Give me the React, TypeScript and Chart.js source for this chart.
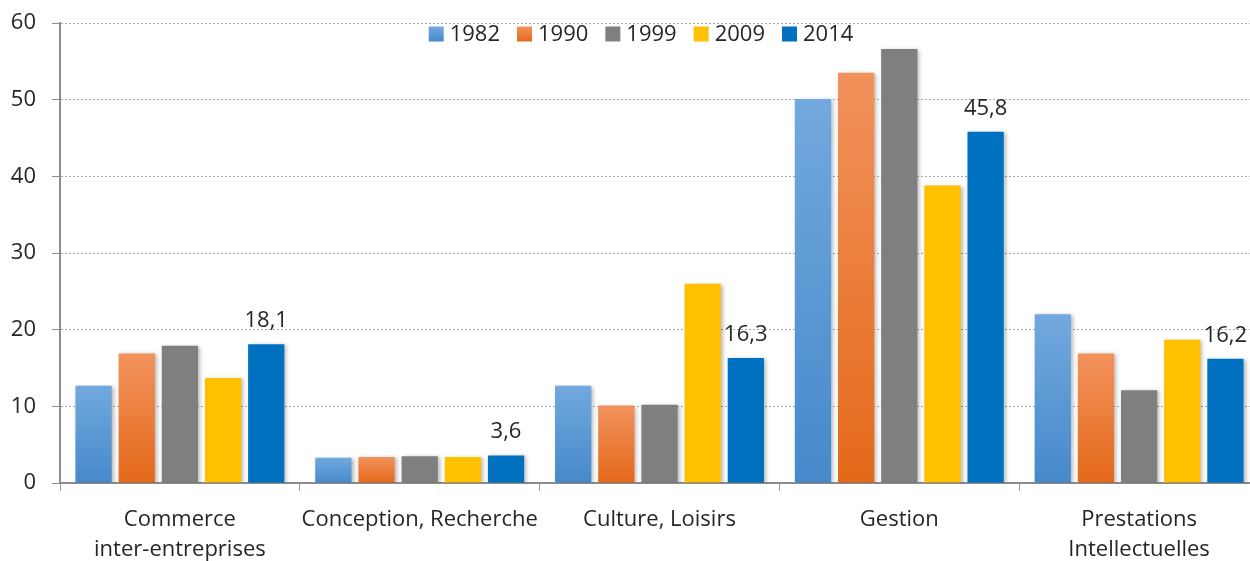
import React, { useEffect, useRef } from "react";
import { Chart, registerables } from "chart.js";

Chart.register(...registerables);

const categories: string[][] = [
  ["Commerce", "inter-entreprises"],
  ["Conception, Recherche"],
  ["Culture, Loisirs"],
  ["Gestion"],
  ["Prestations", "Intellectuelles"],
];
const seriesNames = ["1982", "1990", "1999", "2009", "2014"];
const values1982 = [12.7, 3.3, 12.7, 50.1, 22.0];
const values1990 = [16.9, 3.4, 10.1, 53.5, 16.9];
const values1999 = [17.9, 3.5, 10.2, 56.6, 12.1];
const values2009 = [13.7, 3.4, 26.0, 38.8, 18.7];
const values2014 = [18.1, 3.6, 16.3, 45.8, 16.2];
const yTicks = [0, 10, 20, 30, 40, 50, 60];

const FONT = "'Open Sans', 'Noto Sans', sans-serif";
const TEXT = "#262626";
const FS = 22;

type Grad = { top: string; bottom: string };
const palette: Grad[] = [
  { top: "#72a9de", bottom: "#4689ca" },
  { top: "#f2925c", bottom: "#e4691a" },
  { top: "#7f7f7f", bottom: "#7f7f7f" },
  { top: "#ffc000", bottom: "#ffc000" },
  { top: "#0070c0", bottom: "#0070c0" },
];

function barFill(g: Grad) {
  return (ctx: any) => {
    const chart = ctx.chart;
    const y = chart.scales?.y;
    if (!y || ctx.type !== "data" || g.top === g.bottom) return g.top;
    const v = ctx.parsed?.y ?? 0;
    const top = y.getPixelForValue(v);
    const bottom = y.getPixelForValue(0);
    if (!isFinite(top) || !isFinite(bottom) || top === bottom) return g.top;
    const gr = chart.ctx.createLinearGradient(0, top, 0, bottom);
    gr.addColorStop(0, g.top);
    gr.addColorStop(1, g.bottom);
    return gr;
  };
}

const shadowPlugin = {
  id: "barShadow",
  beforeDatasetsDraw(chart: any) {
    const c = chart.ctx;
    c.save();
    c.shadowColor = "rgba(0,0,0,0.28)";
    c.shadowBlur = 4;
    c.shadowOffsetX = 2;
    c.shadowOffsetY = 1;
  },
  afterDatasetsDraw(chart: any) {
    chart.ctx.restore();
  },
};

const labelPlugin = {
  id: "lastLabels",
  afterDatasetsDraw(chart: any) {
    const c = chart.ctx;
    const last = chart.data.datasets.length - 1;
    const meta = chart.getDatasetMeta(last);
    c.save();
    c.font = `${FS}px ${FONT}`;
    c.fillStyle = TEXT;
    c.textAlign = "center";
    c.textBaseline = "alphabetic";
    meta.data.forEach((el: any, i: number) => {
      const v = chart.data.datasets[last].data[i] as number;
      const txt = v.toFixed(1).replace(".", ",");
      c.fillText(txt, el.x, el.y - 17);
    });
    c.restore();
  },
};

const legendPlugin = {
  id: "customLegend",
  afterDraw(chart: any) {
    const c = chart.ctx;
    c.save();
    c.font = `${FS}px ${FONT}`;
    const box = 15;
    const gapText = 6;
    const gapItem = 17;
    const ds = chart.data.datasets;
    let total = 0;
    const widths = ds.map((d: any) => c.measureText(d.label).width);
    widths.forEach((w: number, i: number) => {
      total += box + gapText + w + (i < ds.length - 1 ? gapItem : 0);
    });
    let x = 641 - total / 2;
    const cy = 34;
    ds.forEach((d: any, i: number) => {
      const g = palette[i];
      const gr = c.createLinearGradient(0, cy - box / 2, 0, cy + box / 2);
      gr.addColorStop(0, g.top);
      gr.addColorStop(1, g.bottom);
      c.fillStyle = gr;
      c.fillRect(x, cy - box / 2, box, box);
      c.fillStyle = TEXT;
      c.textAlign = "left";
      c.textBaseline = "middle";
      c.fillText(d.label, x + box + gapText, cy + 1);
      x += box + gapText + widths[i] + gapItem;
    });
    c.restore();
  },
};

export default function App() {
  const ref = useRef<HTMLCanvasElement | null>(null);
  useEffect(() => {
    if (!ref.current) return;
    const all = [values1982, values1990, values1999, values2009, values2014];
    const chart = new Chart(ref.current, {
      type: "bar",
      data: {
        labels: categories,
        datasets: seriesNames.map((name, i) => ({
          label: name,
          data: all[i],
          backgroundColor: barFill(palette[i]),
          borderWidth: 0,
          categoryPercentage: 0.9,
          barPercentage: 0.84,
        })),
      },
      options: {
        responsive: false,
        animation: false,
        devicePixelRatio: 1,
        layout: { padding: { top: 23, right: 3, left: 0, bottom: 0 } },
        plugins: {
          legend: { display: false },
          tooltip: { enabled: false },
        },
        scales: {
          x: {
            afterFit: (s: any) => {
              s.height = 78;
            },
            grid: {
              display: true,
              drawOnChartArea: false,
              drawTicks: true,
              tickLength: 8,
              color: "#999999",
              offset: true,
            },
            border: { display: true, color: "#8c8c8c", width: 2 },
            ticks: {
              color: TEXT,
              font: { family: FONT, size: FS, lineHeight: 1.36 },
              padding: 14,
              maxRotation: 0,
              autoSkip: false,
            },
          },
          y: {
            min: 0,
            max: 60,
            afterFit: (s: any) => {
              s.width = 60;
              s.paddingTop = 0;
              s.paddingBottom = 0;
            },
            afterBuildTicks: (s: any) => {
              s.ticks = yTicks.map((v) => ({ value: v }));
            },
            grid: {
              color: "#a6a6a6",
              lineWidth: 1,
              tickLength: 8,
              tickColor: "#8c8c8c",
              tickBorderDash: [],
            },
            border: { display: true, color: "#8c8c8c", width: 2, dash: [2, 2] },
            ticks: {
              color: TEXT,
              font: { family: FONT, size: FS },
              padding: 16,
            },
          },
        },
      },
      plugins: [shadowPlugin, labelPlugin, legendPlugin],
    });
    return () => chart.destroy();
  }, []);
  return (
    <div
      style={{
        position: "absolute",
        left: 0,
        top: 0,
        width: 1250,
        height: 561,
        overflow: "hidden",
        background: "#ffffff",
      }}
    >
      <canvas ref={ref} width={1262} height={561} style={{ width: 1262, height: 561, display: "block" }} />
    </div>
  );
}
